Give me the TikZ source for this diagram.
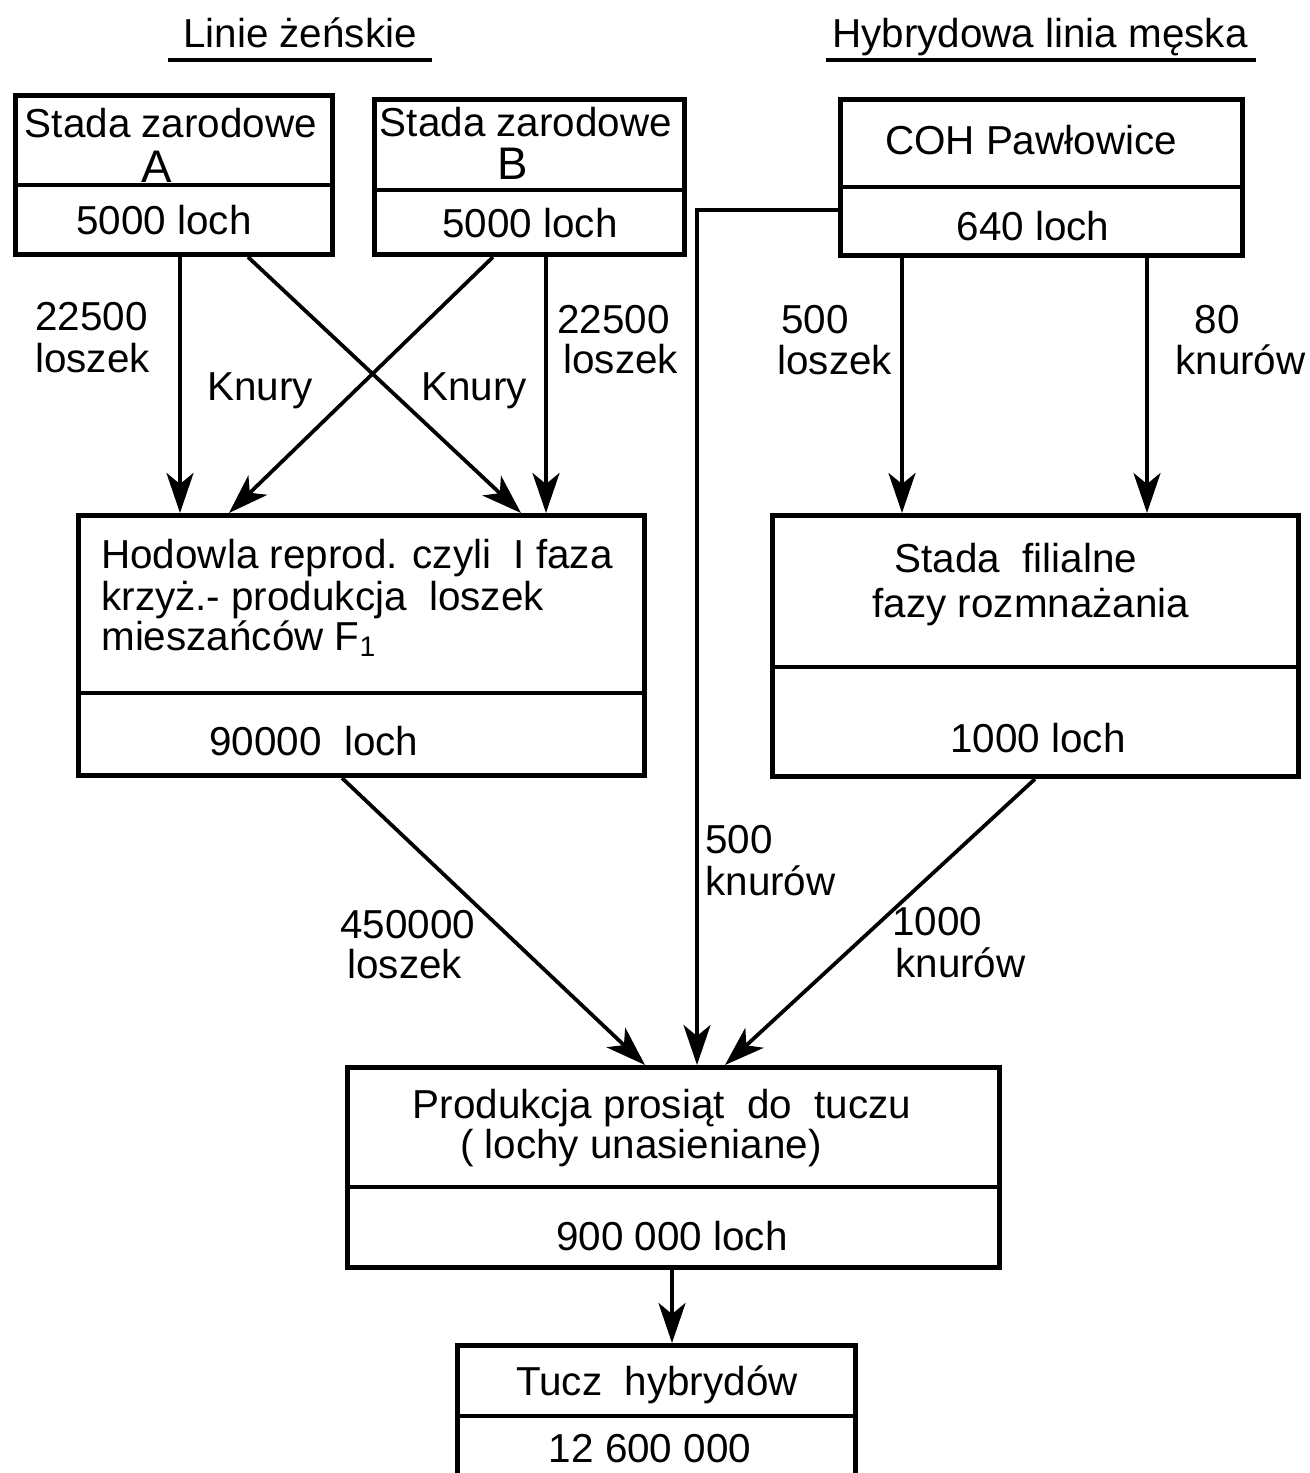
\documentclass[tikz,border=0pt]{standalone}
\usepackage{fontspec}
\setmainfont{Liberation Sans}
\usetikzlibrary{arrows.meta}
\newlength\pxu
\setlength\pxu{0.02cm}
\begin{document}
\begin{tikzpicture}[x=0.02cm,y=-0.02cm,
  box/.style={draw, line width=5\pxu, rectangle, inner sep=0pt, anchor=north west},
  lbl/.style={font=\fontsize{23}{23}\selectfont, inner sep=0pt},
  arr/.style={line width=0.075cm, -{Stealth[length=0.8cm,width=0.54cm,inset=0.22cm]}},
  divline/.style={line width=4\pxu},
  uline/.style={line width=3.5\pxu}]
\useasboundingbox (0,0) rectangle (1310,1473);
\begin{scope}
\clip (0,0) rectangle (1310,1473);

% titles
\node[lbl, anchor=base] (tL) at (300,48) {Linie żeńskie};
\draw[uline] (168,60) -- (432,60);
\node[lbl, anchor=base] (tR) at (1040,48) {Hybrydowa linia męska};
\draw[uline] (826,60) -- (1256,60);

% boxes
\node[box, minimum width=317\pxu, minimum height=159\pxu] (A) at (13,93) {};
\draw[divline] (A.west |- 0,185) -- (A.east |- 0,185);
\node[lbl, anchor=base] (A1) at (171,138) {Stada zarodowe};
\node[lbl, anchor=base, font=\fontsize{26}{26}\selectfont] (A2) at (157,183) {A};
\node[lbl, anchor=base] (A3) at (164,235) {5000 loch};

\node[box, minimum width=310\pxu, minimum height=155\pxu] (B) at (372,97) {};
\draw[divline] (B.west |- 0,190) -- (B.east |- 0,190);
\node[lbl, anchor=base] (B1) at (526,137) {Stada zarodowe};
\node[lbl, anchor=base, font=\fontsize{26}{26}\selectfont] (B2) at (513,180) {B};
\node[lbl, anchor=base] (B3) at (530,237) {5000 loch};

\node[box, minimum width=402\pxu, minimum height=156\pxu] (C) at (838,97) {};
\draw[divline] (C.west |- 0,187) -- (C.east |- 0,187);
\node[lbl, anchor=base] (C1) at (1031,155) {COH Pawłowice};
\node[lbl, anchor=base] (C3) at (1033,240) {640 loch};

\node[box, minimum width=566\pxu, minimum height=260\pxu] (H) at (76,513) {};
\draw[divline] (H.west |- 0,693) -- (H.east |- 0,693);
\node[lbl, anchor=base west] (H1) at (101,568) {Hodowla reprod. czyli~ I faza};
\node[lbl, anchor=base west] (H2) at (101,610) {krzyż.- produkcja~ loszek};
\node[lbl, anchor=base west] (H3) at (101,650) {mieszańców F\textsubscript{1}};
\node[lbl, anchor=base] (H4) at (314,755) {90000~ loch};

\node[box, minimum width=526\pxu, minimum height=261\pxu] (S) at (770,513) {};
\draw[divline] (S.west |- 0,667) -- (S.east |- 0,667);
\node[lbl, anchor=base] (S1) at (1016,572) {Stada~ filialne};
\node[lbl, anchor=base] (S2) at (1031,617) {fazy rozmnażania};
\node[lbl, anchor=base] (S3) at (1038,752) {1000 loch};

\node[box, minimum width=652\pxu, minimum height=200\pxu] (P) at (345,1065) {};
\draw[divline] (P.west |- 0,1187) -- (P.east |- 0,1187);
\node[lbl, anchor=base] (P1) at (662,1118) {Produkcja prosiąt~ do~ tuczu};
\node[lbl, anchor=base] (P2) at (641,1158) {( lochy unasieniane)};
\node[lbl, anchor=base] (P3) at (672,1250) {900 000 loch};

\node[box, minimum width=398\pxu, minimum height=200\pxu] (T) at (455,1343) {};
\draw[divline] (T.west |- 0,1416) -- (T.east |- 0,1416);
\node[lbl, anchor=base] (T1) at (657,1395) {Tucz~ hybrydów};
\node[lbl, anchor=base] (T2) at (650,1462) {12 600 000};

% connectors
\draw[arr] (A.south -| 180,0) -- (H.north -| 180,0);
\draw[arr] (A.south -| 248,0) -- (H.north -| 521,0);
\draw[arr] (B.south -| 493,0) -- (H.north -| 229,0);
\draw[arr] (B.south -| 546,0) -- (H.north -| 546,0);
\draw[arr] (C.south -| 902,0) -- (S.north -| 902,0);
\draw[arr] (C.south -| 1147,0) -- (S.north -| 1147,0);
\draw[arr] (C.west |- 0,210) -| (P.north -| 697,0);
\draw[arr] (H.south -| 342,0) -- (P.north -| 645,0);
\draw[arr] (S.south -| 1035,0) -- (P.north -| 725,0);
\draw[arr] (P.south -| 672,0) -- (T.north -| 672,0);

% connector labels
\node[lbl, anchor=base west] (l1a) at (35,330) {22500};
\node[lbl, anchor=base west] (l1b) at (35,372) {loszek};
\node[lbl, anchor=base west] (k1) at (207,400) {Knury};
\node[lbl, anchor=base west] (k2) at (421,400) {Knury};
\node[lbl, anchor=base west] (l2a) at (557,333) {22500};
\node[lbl, anchor=base west] (l2b) at (563,373) {loszek};
\node[lbl, anchor=base west] (l3a) at (781,333) {500};
\node[lbl, anchor=base west] (l3b) at (777,374) {loszek};
\node[lbl, anchor=base] (l4a) at (1217,333) {80};
\node[lbl, anchor=base west] (l4b) at (1175,374) {knurów};
\node[lbl, anchor=base west] (l5a) at (705,853) {500};
\node[lbl, anchor=base west] (l5b) at (705,895) {knurów};
\node[lbl, anchor=base west] (l6a) at (340,938) {450000};
\node[lbl, anchor=base west] (l6b) at (347,978) {loszek};
\node[lbl, anchor=base west] (l7a) at (892,935) {1000};
\node[lbl, anchor=base west] (l7b) at (895,977) {knurów};
\end{scope}
\end{tikzpicture}
\end{document}
